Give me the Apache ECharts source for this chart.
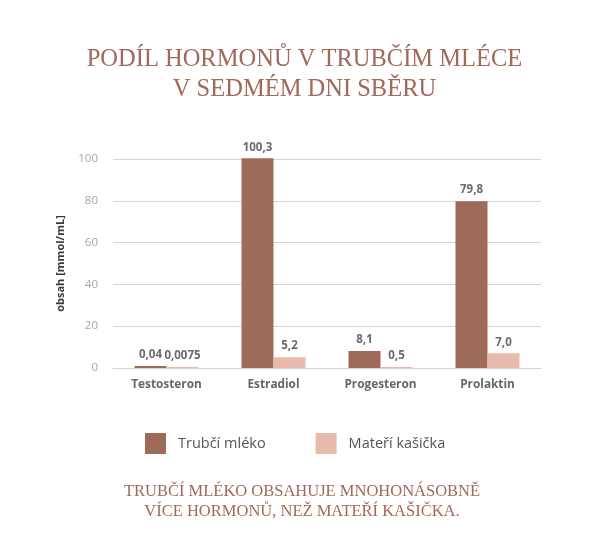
<!DOCTYPE html>
<html>
<head>
<meta charset="utf-8">
<script src="https://cdn.jsdelivr.net/npm/echarts@6/dist/echarts.min.js"></script>
<style>
  html, body { margin: 0; padding: 0; background: #fff; }
  #chart { width: 609px; height: 551px; }
</style>
</head>
<body>
<div id="chart"></div>
<script>
// data
var categories = ['Testosteron', 'Estradiol', 'Progesteron', 'Prolaktin'];
var trubciMleko = [0.04, 100.3, 8.1, 79.8];
var materiKasicka = [0.0075, 5.2, 0.5, 7.0];
var seriesNames = ['Trubčí mléko', 'Mateří kašička'];

var chart = echarts.init(document.getElementById('chart'));

function fmt(p) {
  var v = p.value;
  var s = Number.isInteger(v) ? v.toFixed(1) : String(v);
  return s.replace('.', ',');
}

var labelStyle = {
  show: true,
  position: 'top',
  distance: 5,
  formatter: fmt,
  color: '#6b6b6b',
  fontFamily: 'Open Sans',
  fontWeight: 'bold',
  fontSize: 11.5
};

var option = {
  backgroundColor: '#fff',
  animation: false,
  title: [
    {
      text: 'PODÍL HORMONŮ V TRUBČÍM MLÉCE\nV SEDMÉM DNI SBĚRU',
      left: 'center',
      top: 40,
      textStyle: {
        fontFamily: 'Liberation Serif',
        fontWeight: 'normal',
        fontSize: 24.5,
        lineHeight: 30,
        color: '#a0695a',
        align: 'center'
      }
    },
    {
      text: 'TRUBČÍ MLÉKO OBSAHUJE MNOHONÁSOBNĚ\nVÍCE HORMONŮ, NEŽ MATEŘÍ KAŠIČKA.',
      left: 297,
      textAlign: 'center',
      top: 477,
      textStyle: {
        fontFamily: 'Liberation Serif',
        fontWeight: 'normal',
        fontSize: 16.5,
        lineHeight: 20,
        color: '#a0695a',
        align: 'center'
      }
    }
  ],
  legend: {
    left: 140,
    top: 428,
    itemWidth: 21,
    itemHeight: 21,
    itemGap: 50,
    icon: 'rect',
    textStyle: {
      fontFamily: 'Open Sans',
      fontSize: 14.5,
      color: '#555',
      padding: [0, 0, 0, 7]
    },
    data: seriesNames
  },
  grid: {
    left: 113,
    right: 68,
    top: 159,
    bottom: 183
  },
  xAxis: {
    type: 'category',
    data: categories,
    axisTick: { show: false },
    axisLine: { lineStyle: { color: '#d4d4d4', width: 1 } },
    axisLabel: {
      margin: 11,
      color: '#666',
      fontFamily: 'Open Sans',
      fontWeight: 'bold',
      fontSize: 11.8
    }
  },
  yAxis: {
    type: 'value',
    min: 0,
    max: 100,
    interval: 20,
    name: 'obsah [mmol/mL]',
    nameLocation: 'middle',
    nameGap: 47,
    nameTextStyle: {
      color: '#3a3a3a',
      fontFamily: 'Open Sans',
      fontWeight: 'bold',
      fontSize: 11
    },
    axisLine: { show: false },
    axisTick: { show: false },
    splitLine: { lineStyle: { color: '#d4d4d4', width: 1 } },
    axisLabel: {
      margin: 15,
      color: '#a6a6a6',
      fontFamily: 'Open Sans',
      fontSize: 11.5
    }
  },
  series: [
    {
      name: seriesNames[0],
      type: 'bar',
      data: trubciMleko,
      barWidth: 32,
      barGap: '0%',
      barMinHeight: 2,
      clip: false,
      itemStyle: { color: '#9e6a5a' },
      label: labelStyle
    },
    {
      name: seriesNames[1],
      type: 'bar',
      data: materiKasicka,
      barWidth: 32,
      barGap: '0%',
      barMinHeight: 1,
      clip: false,
      itemStyle: { color: '#e9baab' },
      label: labelStyle
    }
  ]
};

chart.setOption(option);
</script>
</body>
</html>
